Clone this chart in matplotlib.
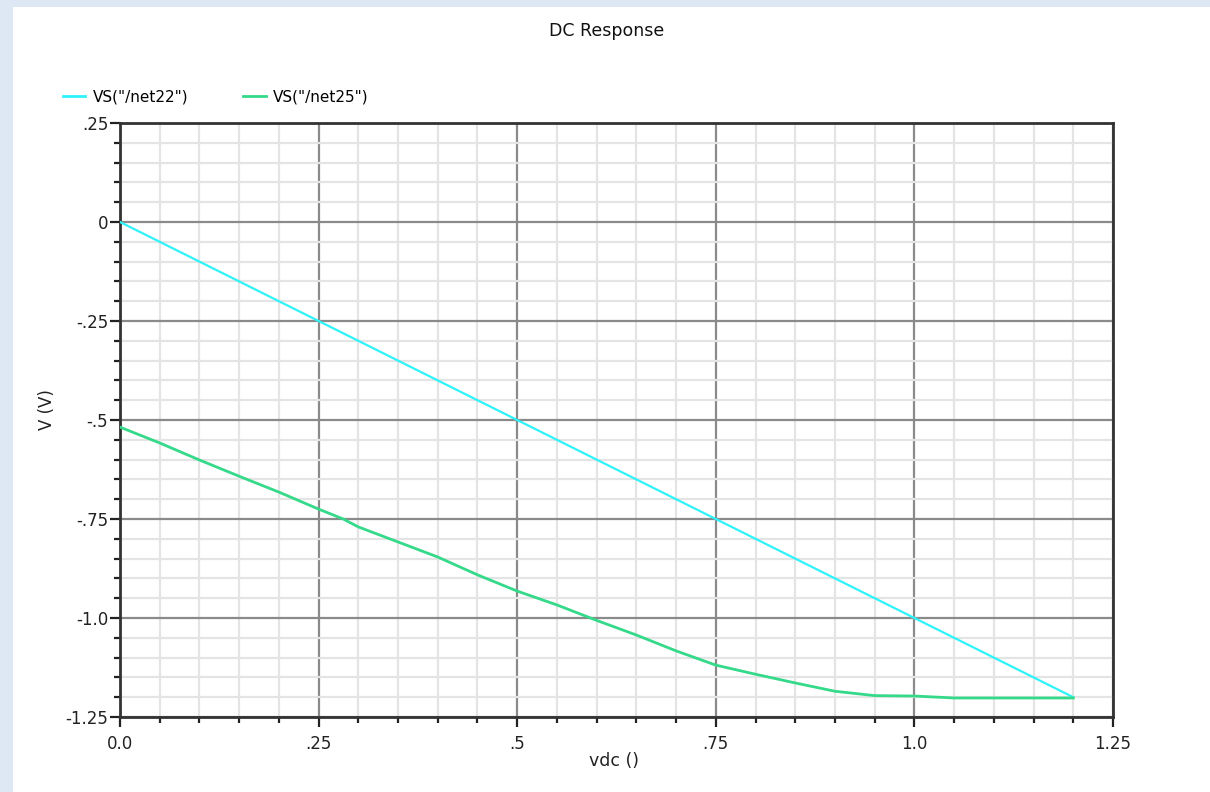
import matplotlib
matplotlib.use("Agg")
import matplotlib.pyplot as plt
from matplotlib.patches import Rectangle
from matplotlib.lines import Line2D
from matplotlib.ticker import MultipleLocator, FixedLocator

# Data
vdc_net22 = [0.0, 1.2]
v_net22 = [0.0, -1.2]

vdc_net25 = [0.0, 0.05, 0.10, 0.15, 0.20, 0.25, 0.281, 0.30, 0.35, 0.40, 0.45, 0.50,
             0.55, 0.60, 0.65, 0.70, 0.75, 0.80, 0.85, 0.90, 0.95, 1.00, 1.05, 1.20]
v_net25 = [-0.518, -0.558, -0.601, -0.642, -0.682, -0.725, -0.75, -0.770, -0.808, -0.846,
           -0.891, -0.932, -0.967, -1.006, -1.043, -1.083, -1.119, -1.142, -1.164, -1.185,
           -1.196, -1.197, -1.202, -1.202]

x_ticks = [0.0, 0.25, 0.5, 0.75, 1.0, 1.25]
x_ticklabels = ["0.0", ".25", ".5", ".75", "1.0", "1.25"]
y_ticks = [0.25, 0.0, -0.25, -0.5, -0.75, -1.0, -1.25]
y_ticklabels = [".25", "0", "-.25", "-.5", "-.75", "-1.0", "-1.25"]

series_names = ['VS("/net22")', 'VS("/net25")']
cyan = "#2ff3f8"
green = "#35d98a"

W, H = 1210, 792
fig = plt.figure(figsize=(W / 100, H / 100), dpi=100, facecolor="#dde8f4")
bg = Rectangle((13 / W, 0), 1, 1 - 7 / H, transform=fig.transFigure,
               facecolor="white", edgecolor="none", zorder=-10)
fig.patches.append(bg)

ax = fig.add_axes([120 / W, 1 - 717 / H, (1113 - 120) / W, (717 - 123) / H])
ax.set_zorder(1)
ax.set_xlim(0, 1.25)
ax.set_ylim(-1.25, 0.25)

ax.xaxis.set_major_locator(FixedLocator(x_ticks))
ax.set_xticklabels(x_ticklabels)
ax.yaxis.set_major_locator(FixedLocator(y_ticks))
ax.set_yticklabels(y_ticklabels)
ax.xaxis.set_minor_locator(MultipleLocator(0.05))
ax.yaxis.set_minor_locator(MultipleLocator(0.05))

ax.grid(which="minor", color="#e4e4e4", linewidth=1.6, zorder=0)
ax.grid(which="major", color="#8a8a8a", linewidth=1.6, zorder=0.5)
ax.set_axisbelow(True)

ax.tick_params(which="major", direction="out", length=7, width=1.6, color="#222222",
               labelsize=12, labelcolor="#222222")
ax.tick_params(which="minor", direction="out", length=4, width=1.6, color="#222222")
ax.tick_params(axis="y", which="major", pad=1.5)
ax.tick_params(axis="x", which="major", pad=6)
for s in ax.spines.values():
    s.set_linewidth(2)
    s.set_color("#333333")

ax.plot(vdc_net22, v_net22, color=cyan, linewidth=1.6, zorder=3)
ax.plot(vdc_net25, v_net25, color=green, linewidth=2, zorder=3)

fig.text(607 / W, 1 - 31 / H, "DC Response", ha="center", va="center", fontsize=12.5, color="#111111")
fig.text(614 / W, 1 - 761 / H, "vdc ()", ha="center", va="center", fontsize=12.5, color="#222222")
fig.text(47 / W, 1 - 410 / H, "V (V)", ha="center", va="center", rotation=90, fontsize=12, color="#222222")

handles = [Line2D([], [], color=cyan, linewidth=2), Line2D([], [], color=green, linewidth=2)]
fig.legend(handles, series_names, loc="center left", bbox_to_anchor=(63 / W, 1 - 97 / H),
           ncol=2, frameon=False, fontsize=11, handlelength=1.45, handletextpad=0.5,
           columnspacing=3.6, borderaxespad=0, borderpad=0)

fig.savefig("out.png", dpi=100, facecolor=fig.get_facecolor())
